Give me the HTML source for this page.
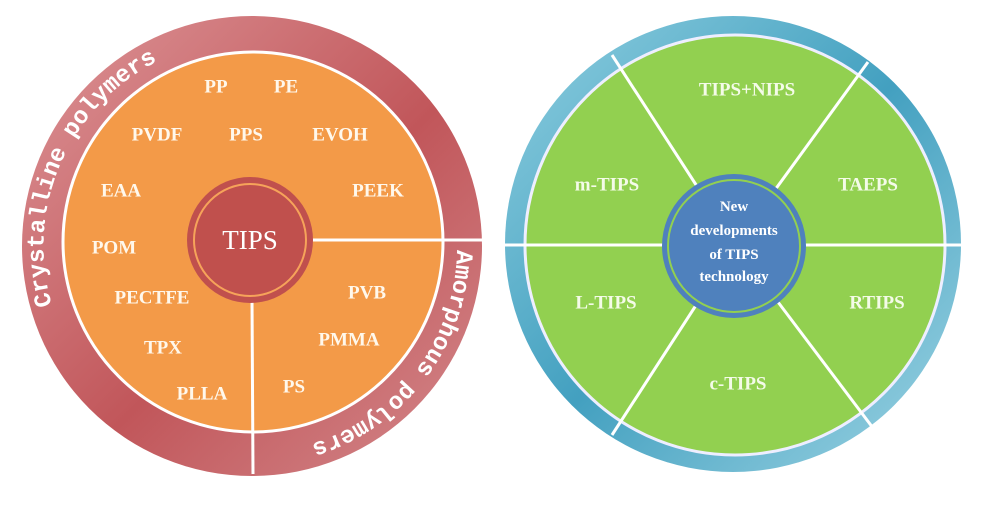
<!DOCTYPE html>
<html><head><meta charset="utf-8"><style>
html,body{margin:0;padding:0;background:#fff;width:1000px;height:516px;overflow:hidden}
svg{display:block}
.t{font-family:"Liberation Serif",serif;font-weight:bold;fill:#fff8ec;font-size:19px;text-anchor:middle;dominant-baseline:central}
.g{font-family:"Liberation Serif",serif;font-weight:bold;fill:#f4fbe8;font-size:19px;text-anchor:middle;dominant-baseline:central}
.arc{font-family:"Liberation Mono",monospace;font-weight:bold;fill:#fff;font-size:24px}
</style></head><body>
<svg width="1000" height="516" viewBox="0 0 1000 516">
<defs>
<linearGradient id="rg" x1="0" y1="0" x2="1" y2="1">
<stop offset="0" stop-color="#dd9598"/><stop offset="0.55" stop-color="#c1565a"/><stop offset="1" stop-color="#d48a8d"/>
</linearGradient>
<linearGradient id="bg" x1="0" y1="0" x2="1" y2="1">
<stop offset="0" stop-color="#8fcfe0"/><stop offset="0.5" stop-color="#43a0c0"/><stop offset="1" stop-color="#9fd5e4"/>
</linearGradient>
<path id="cp" d="M 52 305 A 207 207 0 0 1 198 46"/>
<path id="ap" d="M 457 250 A 206 206 0 0 1 216 450"/>
</defs>

<!-- LEFT -->
<circle cx="252" cy="246" r="230" fill="url(#rg)"/>
<circle cx="253" cy="242" r="190" fill="#f39a48" stroke="#fff" stroke-width="3"/>
<line x1="312" y1="240" x2="482" y2="240" stroke="#fff" stroke-width="3"/>
<line x1="252" y1="300" x2="253" y2="474" stroke="#fff" stroke-width="3"/>
<circle cx="250" cy="240" r="63" fill="#c0504d"/>
<circle cx="250" cy="240" r="56" fill="none" stroke="#f6a35a" stroke-width="2"/>
<text x="250" y="240" style="font-family:'Liberation Serif',serif;font-size:27px;fill:#fff;text-anchor:middle;dominant-baseline:central">TIPS</text>
<text class="arc"><textPath href="#cp">Crystalline polymers</textPath></text>
<text class="arc"><textPath href="#ap">Amorphous polymers</textPath></text>
<text class="t" x="216" y="87">PP</text>
<text class="t" x="286" y="87">PE</text>
<text class="t" x="157" y="135">PVDF</text>
<text class="t" x="246" y="135">PPS</text>
<text class="t" x="340" y="135">EVOH</text>
<text class="t" x="121" y="191">EAA</text>
<text class="t" x="378" y="191">PEEK</text>
<text class="t" x="114" y="248">POM</text>
<text class="t" x="152" y="298">PECTFE</text>
<text class="t" x="367" y="293">PVB</text>
<text class="t" x="163" y="348">TPX</text>
<text class="t" x="349" y="340">PMMA</text>
<text class="t" x="202" y="394">PLLA</text>
<text class="t" x="294" y="387">PS</text>

<!-- RIGHT -->
<circle cx="733" cy="244" r="228" fill="url(#bg)"/>
<circle cx="735" cy="245" r="210" fill="#92d050" stroke="#eef" stroke-width="3"/>
<g stroke="#fff" stroke-width="3">
<line x1="505" y1="245" x2="962" y2="245"/>
<line x1="735" y1="245" x2="612" y2="55"/>
<line x1="735" y1="245" x2="868" y2="62"/>
<line x1="735" y1="245" x2="612" y2="435"/>
<line x1="735" y1="245" x2="873" y2="428"/>
</g>
<circle cx="734" cy="246" r="72" fill="#4f81bd"/>
<circle cx="734" cy="246" r="66" fill="none" stroke="#92d050" stroke-width="2"/>
<g style="font-family:'Liberation Serif',serif;font-weight:bold;font-size:15px;fill:#fff;text-anchor:middle;dominant-baseline:central">
<text x="734" y="207">New</text>
<text x="734" y="231">developments</text>
<text x="734" y="255">of TIPS</text>
<text x="734" y="277">technology</text>
</g>
<text class="g" x="747" y="90">TIPS+NIPS</text>
<text class="g" x="607" y="185">m-TIPS</text>
<text class="g" x="868" y="185">TAEPS</text>
<text class="g" x="606" y="303">L-TIPS</text>
<text class="g" x="877" y="303">RTIPS</text>
<text class="g" x="738" y="384">c-TIPS</text>
</svg>
</body></html>
